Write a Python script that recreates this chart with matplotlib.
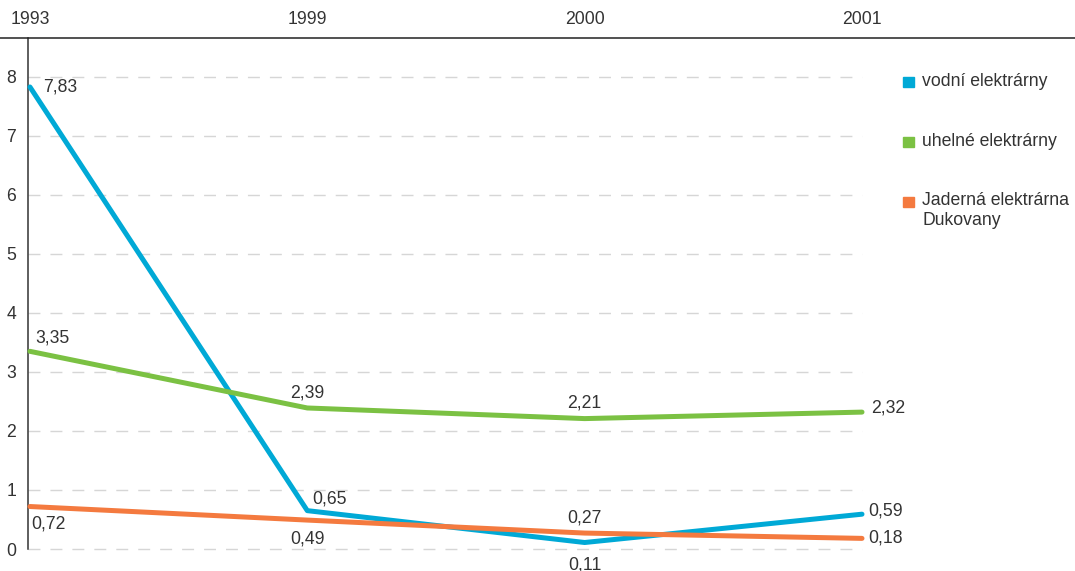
import numpy as np
import matplotlib.pyplot as plt
from matplotlib.lines import Line2D
from matplotlib.patches import Rectangle

plt.rcParams['font.family'] = ['Liberation Sans', 'DejaVu Sans']
plt.rcParams['lines.scale_dashes'] = False

years = ['1993', '1999', '2000', '2001']
vodni = [7.83, 0.65, 0.11, 0.59]
uhelne = [3.35, 2.39, 2.21, 2.32]
jaderna = [0.72, 0.49, 0.27, 0.18]
names = ['vodní elektrárny', 'uhelné elektrárny', 'Jaderná elektrárna\nDukovany']
colors = ['#00a9d6', '#7bc143', '#f47a3f']

# label offsets in px (dx, dy, ha)
px = 0.72
offs_vodni = [(13, 0, 'left'), (5, 12, 'left'), (0, -22, 'center'), (6, 3, 'left')]
offs_uhelne = [(5, 13, 'left'), (0, 15, 'center'), (0, 16, 'center'), (9, 4, 'left')]
offs_jaderna = [(1, -17, 'left'), (0, -19, 'center'), (0, 15, 'center'), (6, 0, 'left')]

fs = 12.7
txt = '#333333'
fig = plt.figure(figsize=(10.75, 5.71), dpi=100)
ax = fig.add_axes([28/1075, 22/571, (862-28)/1075, (549-38)/571])
x = np.arange(len(years))

for yv in range(0, 9):
    ax.axhline(yv, color='#d6d6d6', lw=1.0, ls=(0, (8.6, 7.2)), zorder=0, clip_on=False)

for vals, col, offs in zip([vodni, uhelne, jaderna], colors,
                           [offs_vodni, offs_uhelne, offs_jaderna]):
    ax.plot(x, vals, color=col, lw=3.6, solid_capstyle='round',
            solid_joinstyle='round', zorder=3, clip_on=False)
    for xi, v, (dx, dy, ha) in zip(x, vals, offs):
        ax.annotate(('%.2f' % v).replace('.', ','), (xi, v),
                    xytext=(dx*px, dy*px), textcoords='offset points',
                    ha=ha, va='center', fontsize=fs, color=txt)

ax.set_xlim(-0.007, 3)
ax.set_ylim(0, 8.66)
ax.xaxis.tick_top()
ax.set_xticks(x)
ax.set_xticklabels(years)
ax.set_yticks(range(0, 9))
ax.tick_params(axis='x', length=0, pad=7, labelsize=fs, labelcolor=txt)
ax.tick_params(axis='y', length=0, pad=8.5, labelsize=fs, labelcolor=txt)
for s in ['top', 'right', 'bottom']:
    ax.spines[s].set_visible(False)
ax.spines['left'].set_color('#333333')
ax.spines['left'].set_linewidth(1.1)

# top rule across the whole width
fig.add_artist(Line2D([0, 1], [1 - 38/571, 1 - 38/571], color='#222222', lw=1.1))

# legend
leg_y = [82, 142, 202]
for yy, name, col in zip(leg_y, names, colors):
    fig.add_artist(Rectangle((903/1075, 1 - (yy+5)/571), 11/1075, 10/571,
                             color=col, transform=fig.transFigure))
    if '\n' in name:
        fig.text(922/1075, 1 - (yy - 10)/571, name, ha='left', va='top',
                 fontsize=fs, color=txt, linespacing=1.2)
    else:
        fig.text(922/1075, 1 - yy/571, name, ha='left', va='center',
                 fontsize=fs, color=txt)

fig.savefig('out.png', dpi=100)
